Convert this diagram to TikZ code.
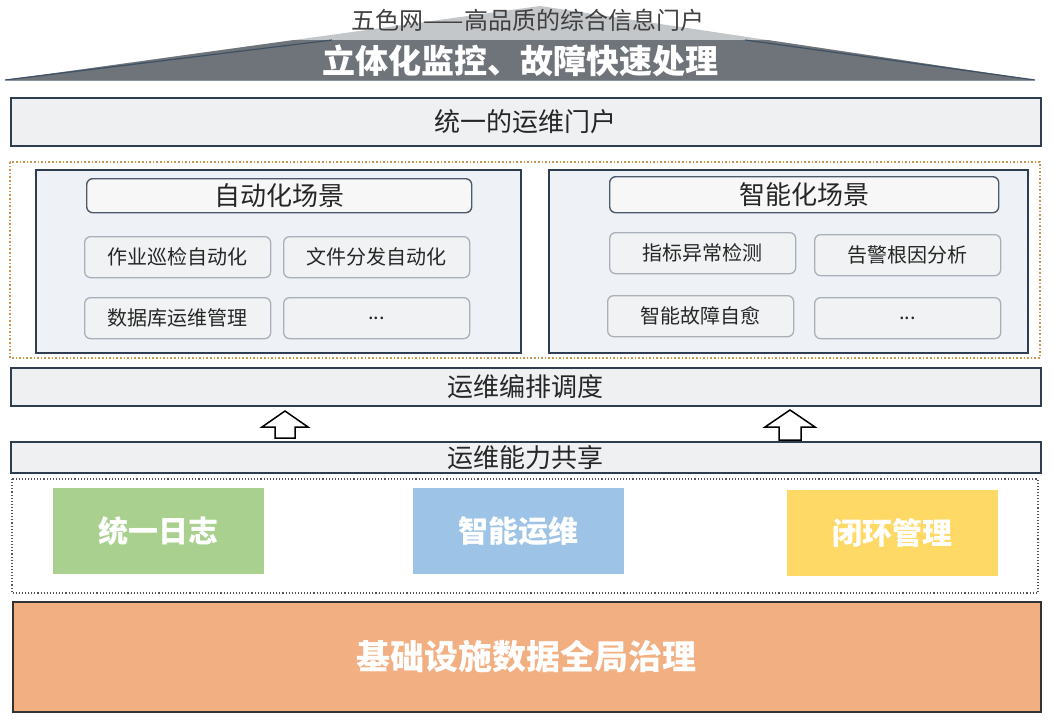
\documentclass[tikz,border=0pt]{standalone}
\usepackage{fontspec}
\setmainfont{Noto Sans CJK SC}
\usetikzlibrary{positioning}
\definecolor{edge}{HTML}{2E3D4F}
\definecolor{barfill}{HTML}{EFF0F2}
\definecolor{panelfill}{HTML}{EEF2F6}
\definecolor{subedge}{HTML}{A9B0B8}
\definecolor{subfill}{HTML}{F1F2F3}
\definecolor{roofdark}{HTML}{6E7479}
\definecolor{rooflight}{HTML}{C4C7CA}
\definecolor{roofline}{HTML}{3E5064}
\definecolor{dotorange}{HTML}{C8964F}
\definecolor{dotgray}{HTML}{555555}
\definecolor{cgreen}{HTML}{A9D08E}
\definecolor{cblue}{HTML}{9DC3E6}
\definecolor{cyellow}{HTML}{FFD966}
\definecolor{corange}{HTML}{F2AF82}
\tikzset{
  bar/.style={draw=edge, line width=1.6pt, fill=barfill, anchor=north west, inner sep=0pt, font=\fontsize{26}{30}\selectfont, text=black!85},
  panel/.style={draw=edge, line width=1.6pt, fill=panelfill, anchor=north west, inner sep=0pt},
  head/.style={draw=edge!85, line width=1.4pt, fill=subfill!60!white, rounded corners=6pt, anchor=north west, inner sep=0pt, font=\fontsize{26}{30}\selectfont, text=black!85},
  sub/.style={draw=subedge, line width=1.3pt, fill=subfill, rounded corners=6pt, anchor=north west, inner sep=0pt, minimum width=186pt, minimum height=41pt, font=\fontsize{20}{24}\selectfont, text=black!85},
  color box/.style={anchor=north west, inner sep=0pt, minimum width=211pt, minimum height=86pt, font=\bfseries\fontsize{30}{34}\selectfont, text=white},
  hollow arrow/.style={draw=black, line width=1.5pt, fill=white, line join=miter},
}
\begin{document}
\begin{tikzpicture}[x=1pt,y=-1pt]
\useasboundingbox (0,0) rectangle (1053,721);
\fill[white] (0,0) rectangle (1053,721);

% roof
\begin{scope}
  \clip (5,80) -- (540,6) -- (1035,80) -- cycle;
  \fill[rooflight] (0,0) rectangle (1053,80);
  \fill[roofdark] (0,40) rectangle (1053,80);
\end{scope}
\draw[roofline, line width=1.2pt] (5,80) -- (332,40);
\draw[roofline, line width=1.2pt] (1035,80) -- (745,40);
\draw[roofline!60, line width=1pt] (5,80) -- (1035,80);
\node[text=black!75, font=\fontsize{24}{28}\selectfont] (subtitle) at (528,20) {五色网——高品质的综合信息门户};
\node[text=white, font=\bfseries\fontsize{33}{38}\selectfont] (title) at (520,61) {立体化监控、故障快速处理};

% portal bar
\node[bar, minimum width=1030pt, minimum height=48pt] (portal) at (10,97) {统一的运维门户};

% scenario area
\draw[dotorange, line width=1.6pt, dotted] (10,162) rectangle (1040,358);
\node[panel, minimum width=485pt, minimum height=183pt] (autopanel) at (35,169) {};
\node[panel, minimum width=479pt, minimum height=183pt] (aipanel) at (548,169) {};

\node[head, minimum width=385pt, minimum height=34pt] (autohead) at (86,178) {自动化场景};
\node[sub] (a1) at (84,236) {作业巡检自动化};
\node[sub] (a2) at (283,236) {文件分发自动化};
\node[sub] (a3) at (84,297) {数据库运维管理};
\node[sub] (a4) at (283,297) {...};

\node[head, minimum width=389pt, minimum height=36pt] (aihead) at (609,176) {智能化场景};
\node[sub] (b1) at (609,232) {指标异常检测};
\node[sub] (b2) at (814,234) {告警根因分析};
\node[sub] (b3) at (607,295) {智能故障自愈};
\node[sub] (b4) at (814,297) {...};

% orchestration
\node[bar, minimum width=1030pt, minimum height=38pt] (orch) at (10,367) {运维编排调度};
\node[bar, minimum width=1030pt, minimum height=31pt] (share) at (10,441) {运维能力共享};

% hollow arrows
\coordinate (ar1) at (285,411);
\coordinate (ar2) at (790,410);
\draw[hollow arrow] (ar1) -- ++(23,16) -- ++(-13,0) -- ++(0,11) -- ++(-20,0) -- ++(0,-11) -- ++(-13,0) -- cycle;
\draw[hollow arrow] (ar2) -- ++(25,17) -- ++(-14,0) -- ++(0,13) -- ++(-22,0) -- ++(0,-13) -- ++(-14,0) -- cycle;

% capability boxes
\draw[dotgray, line width=1.1pt, dotted] (12,479) rectangle (1038,593);
\node[color box, fill=cgreen] (log) at (53,488) {统一日志};
\node[color box, fill=cblue] (aiops) at (413,488) {智能运维};
\node[color box, fill=cyellow] (loop) at (787,490) {闭环管理};

% foundation
\node[anchor=north west, inner sep=0pt, draw=black!80, line width=1.6pt, fill=corange, minimum width=1028pt, minimum height=110pt, text=white, font=\bfseries\fontsize{34}{38}\selectfont] (base) at (12,601) {基础设施数据全局治理};
\end{tikzpicture}
\end{document}
